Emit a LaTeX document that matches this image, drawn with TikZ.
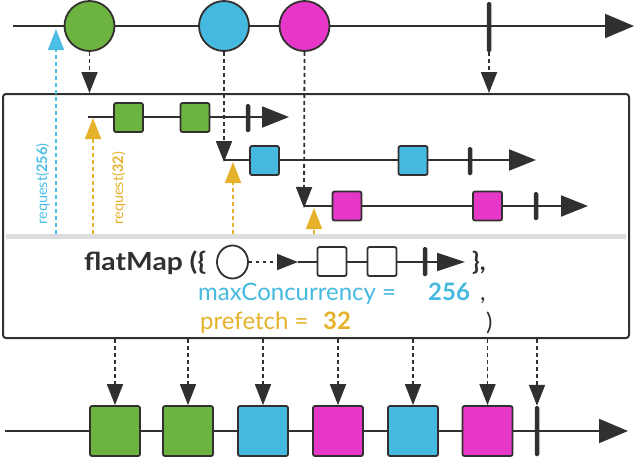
\documentclass[tikz,border=0pt]{standalone}
\usepackage{fontspec}
\setmainfont{Lato}
\newfontfamily\reqfont{Lato}[Ligatures=NoCommon,Kerning=Off]
\usetikzlibrary{arrows.meta,shapes.geometric}
\definecolor{cgreen}{HTML}{6DB33F}
\definecolor{cblue}{HTML}{45B9DF}
\definecolor{cmag}{HTML}{E637C9}
\definecolor{cyel}{HTML}{E6B22C}
\definecolor{creq}{HTML}{4CBDE6}
\definecolor{cdark}{HTML}{32302E}
\definecolor{cband}{HTML}{DDDDDD}
\begin{document}
\begin{tikzpicture}[x=1pt,y=-1pt,
  tline/.style={draw=cdark, line width=2pt, -{Triangle[length=29pt,width=24pt]}},
  sline/.style={draw=cdark, line width=2pt, -{Triangle[length=27pt,width=21pt]}},
  fline/.style={draw=cdark, line width=2pt, -{Triangle[length=28pt,width=18pt]}},
  dsh/.style={draw=cdark, line width=1.8pt, dash pattern=on 4pt off 3pt, -{Triangle[length=21pt,width=16pt]}},
  ydsh/.style={draw=cyel, line width=1.8pt, dash pattern=on 4pt off 3pt, -{Triangle[length=21pt,width=16pt]}},
  bdsh/.style={draw=creq, line width=1.8pt, dash pattern=on 4pt off 3pt, -{Triangle[length=21pt,width=16pt]}},
  circ/.style={circle, draw=cdark, line width=1.8pt, minimum size=50pt, inner sep=0pt},
  bsq/.style={rectangle, rounded corners=2pt, draw=cdark, line width=1.8pt, minimum size=50pt, inner sep=0pt},
  ssq/.style={rectangle, rounded corners=2pt, draw=cdark, line width=1.8pt, minimum size=29pt, inner sep=0pt},
  bar/.style={rectangle, rounded corners=1.5pt, fill=cdark, minimum width=4.5pt, inner sep=0pt},
  txt/.style={anchor=base west, inner sep=0pt, font=\fontsize{24}{28}\selectfont},
]
\useasboundingbox (0,0) rectangle (640,459);
% ---------- top timeline ----------
\coordinate (ts) at (13,26);
\coordinate (te) at (634,26);
\draw[tline] (ts) -- (te);
\node[circ, fill=cgreen] (c1) at (89.5,26) {};
\node[circ, fill=cblue] (c2) at (224,26) {};
\node[circ, fill=cmag] (c3) at (304.5,26) {};
\node[bar, minimum height=50pt] (tb) at (489,27) {};
% ---------- operator box ----------
\node[draw=cdark, line width=2pt, rounded corners=3pt, minimum width=626pt, minimum height=244pt, inner sep=0pt] (box) at (316,216) {};
\draw[cband, line width=5pt] (6,236) -- (626,236);
% ---------- inner line 1 ----------
\coordinate (l1s) at (88,117);
\coordinate (l1e) at (289,117);
\draw[sline] (l1s) -- (l1e);
\node[ssq, fill=cgreen] (g1) at (128.5,117.5) {};
\node[ssq, fill=cgreen] (g2) at (195,117.5) {};
\node[bar, minimum height=28pt] (b1) at (248,118) {};
% ---------- inner line 2 ----------
\coordinate (l2s) at (224,160);
\coordinate (l2e) at (536,160);
\draw[sline] (l2s) -- (l2e);
\node[ssq, fill=cblue] (u1) at (264.5,160.5) {};
\node[ssq, fill=cblue] (u2) at (413,160.5) {};
\node[bar, minimum height=28pt] (b2) at (470,161) {};
% ---------- inner line 3 ----------
\coordinate (l3s) at (304,206);
\coordinate (l3e) at (588,206);
\draw[sline] (l3s) -- (l3e);
\node[ssq, fill=cmag] (m1) at (347,206) {};
\node[ssq, fill=cmag] (m2) at (487.5,206) {};
\node[bar, minimum height=28pt] (b3) at (536,206) {};
% ---------- connectors from the top timeline ----------
\draw[dsh] (c1.south) -- (c1.south |- box.north);
\draw[dsh] (tb.south) -- (tb.south |- box.north);
\draw[dsh] (c2.south) -- ([yshift=-2pt]l2s);
\draw[dsh] (c3.south) -- ([yshift=-2pt]l3s);
% ---------- requests ----------
\coordinate (rq0) at (56,234);
\coordinate (rq0e) at (56,29);
\draw[bdsh] (rq0) -- (rq0e);
\coordinate (rq1) at (93,234);
\coordinate (rq1e) at (93,118);
\draw[ydsh] (rq1) -- (rq1e);
\coordinate (rq2) at (233,234);
\coordinate (rq2e) at (233,162);
\draw[ydsh] (rq2) -- (rq2e);
\coordinate (rq3) at (314,234);
\coordinate (rq3e) at (314,208);
\draw[ydsh] (rq3) -- (rq3e);
\node[rotate=90, anchor=base west, inner sep=0pt, text=creq, font=\reqfont\fontsize{14.5}{17}\selectfont] (t256) at (47,225) {request(\textbf{256})};
\node[rotate=90, anchor=base west, inner sep=0pt, text=cyel, font=\reqfont\fontsize{14.5}{17}\selectfont] (t32) at (123,225) {request(\textbf{32})};
% ---------- flatMap signature ----------
\node[txt, font=\fontsize{25}{28}\selectfont\bfseries, text=cdark] (fm) at (84,270) {\scalebox{1.13}[1]{flatMap (\{}};
\node[ellipse, draw=cdark, line width=1.8pt, minimum width=31pt, minimum height=33pt, inner sep=0pt] (fc) at (232.5,262) {};
\coordinate (fa) at (298,262);
\draw[draw=cdark, line width=1.8pt, dash pattern=on 3pt off 4pt, -{Triangle[length=21pt,width=16pt]}] (fc.east) -- (fa);
\coordinate (fe) at (465,262);
\draw[fline] (fa) -- (fe);
\node[ssq, fill=white] (f1) at (332,261.5) {};
\node[ssq, fill=white] (f2) at (382,261.5) {};
\node[bar, minimum height=29pt] (fb) at (425,261.5) {};
\node[txt, font=\fontsize{25}{28}\selectfont\bfseries, text=cdark] (fcl) at (472,270) {\},};
\node[txt, text=cblue] (mc) at (198,300) {maxConcurrency};
\node[txt, text=cblue] (mceq) at (382,300) {=};
\node[txt, text=cblue, font=\fontsize{24}{28}\selectfont\bfseries] (mcv) at (428,300) {256};
\node[txt, text=cdark] (mcc) at (480,300) {,};
\node[txt, text=cyel] (pf) at (200,329) {prefetch =};
\node[txt, text=cyel, font=\fontsize{24}{28}\selectfont\bfseries] (pfv) at (323,329) {32};
\node[txt, text=cdark] (pfc) at (486,330) {)};
% ---------- bottom timeline ----------
\coordinate (bs) at (5,431);
\coordinate (be) at (628,431);
\draw[tline] (bs) -- (be);
\node[bsq, fill=cgreen] (o1) at (115,431) {};
\node[bsq, fill=cgreen] (o2) at (188,431) {};
\node[bsq, fill=cblue] (o3) at (263,431) {};
\node[bsq, fill=cmag] (o4) at (338,431) {};
\node[bsq, fill=cblue] (o5) at (413,431) {};
\node[bsq, fill=cmag] (o6) at (487.5,431) {};
\node[bar, minimum height=50pt] (ob) at (537,431) {};
\foreach \n in {o1,o2,o3,o4,o5,o6,ob}
  \draw[dsh] (\n.north |- box.south) -- (\n.north);
\end{tikzpicture}
\end{document}
